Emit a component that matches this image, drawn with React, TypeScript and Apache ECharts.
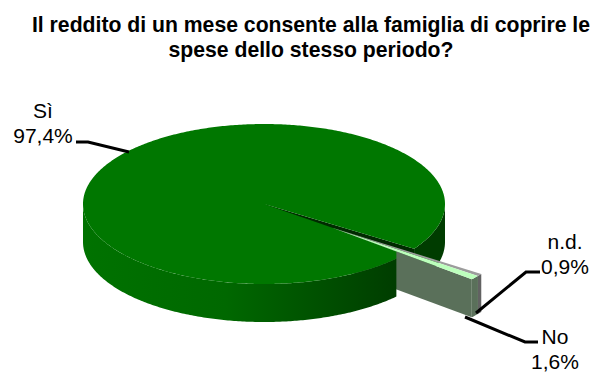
import React, { useEffect, useRef } from "react";
import * as echarts from "echarts";

const titleLines = [
  "Il reddito di un mese consente alla famiglia di coprire le",
  "spese dello stesso periodo?",
];
const categories = ["Sì", "n.d.", "No"];
const values = [97.4, 0.9, 1.6];
const valueLabels = ["97,4%", "0,9%", "1,6%"];

const CX = 264;
const CY = 204;
const RX = 181;
const RY = 80;
const DEPTH = 38;
const START = 43;
const EXPLODED_START = 35;
const EXPLODED_SWEEP = 0.55;
const EXPLODE = [69, 24];
const total = values.reduce((a, b) => a + b, 0);

const pt = (deg: number, ox = 0, oy = 0): [number, number] => {
  const a = (deg * Math.PI) / 180;
  return [CX + ox + RX * Math.cos(a), CY + oy + RY * Math.sin(a)];
};
const arc = (a0: number, a1: number, ox = 0, oy = 0) => {
  const out: [number, number][] = [];
  const n = Math.max(2, Math.ceil(Math.abs(a1 - a0) * 1.5));
  for (let i = 0; i <= n; i++) out.push(pt(a0 + ((a1 - a0) * i) / n, ox, oy));
  return out;
};
const band = (a0: number, a1: number, ox = 0, oy = 0) => [
  ...arc(a0, a1, ox, oy),
  ...arc(a1, a0, ox, oy + DEPTH),
];
const poly = (points: number[][], fill: any, z2: number) => ({
  type: "polygon",
  z2,
  shape: { points },
  style: { fill, stroke: null },
});

const frontGradient = new echarts.graphic.LinearGradient(
  83, 0, 400, 0,
  [
    { offset: 0, color: "#007200" },
    { offset: 0.45, color: "#006800" },
    { offset: 1, color: "#003c00" },
  ],
  true
);

const renderSlice = (params: any, api: any) => {
  const i = params.dataIndex;
  const sweep = (api.value(0) / total) * 360;
  const children: any[] = [];
  const [ox, oy] = EXPLODE;
  const apex = [CX + ox, CY + oy];
  if (i === 0) {
    const a0 = START;
    const a1 = a0 + sweep;
    const end = pt(a1);
    const c = [CX, CY];
    const s = pt(a0);
    // point on the lower edge of the pulled-out slices, straight above the start of this slice
    const lowerAngle = EXPLODED_START + (EXPLODED_SWEEP * (values[1] + values[2]) * 360) / total;
    const tip = pt(lowerAngle, ox, oy);
    const t = (s[0] - apex[0]) / (tip[0] - apex[0]);
    const lower = [s[0], apex[1] + (tip[1] - apex[1]) * t];
    children.push(
      poly([c, end, [end[0], end[1] + DEPTH], [CX, CY + DEPTH]], "#002a00", 1),
      poly(band(360, a1), "#003c00", 2),
      poly(band(a0, 180), frontGradient, 6),
      poly([c, apex, lower, ...arc(a0, a1)], "#007700", 7)
    );
  } else {
    let a0 = EXPLODED_START;
    for (let k = 1; k < i; k++) a0 += (values[k] / total) * 360 * EXPLODED_SWEEP;
    const a1 = a0 + sweep * EXPLODED_SWEEP;
    const tipEnd = pt(a1, ox, oy);
    if (categories[i] === "No") {
      children.push(
        poly([apex, tipEnd, [tipEnd[0], tipEnd[1] + DEPTH], [apex[0], apex[1] + DEPTH]], "#5a705a", 5),
        poly(band(a0, a1, ox, oy), "#5a705a", 5),
        poly([apex, ...arc(a0, a1, ox, oy)], "#bcffbc", 9)
      );
    } else {
      children.push(
        poly(band(a0, a1, ox, oy), "#626262", 4),
        poly([apex, ...arc(a0, a1, ox, oy)], "#9c9c9c", 8)
      );
    }
  }
  return { type: "group", children };
};

const labelFont = { fontFamily: "Liberation Sans, Arial, sans-serif", fontSize: 21, fill: "#000" };
const label = (text: string, x: number, y: number) => ({
  type: "text",
  x,
  y,
  z: 10,
  style: { ...labelFont, text, textAlign: "center", textVerticalAlign: "middle" },
});
const leader = (points: number[][]) => ({
  type: "polyline",
  z: 10,
  shape: { points },
  style: { stroke: "#000", lineWidth: 3, fill: null },
});

export default function App() {
  const ref = useRef<HTMLDivElement>(null);
  useEffect(() => {
    const chart = echarts.init(ref.current!, null, { renderer: "svg" });
    chart.setOption({
      animation: false,
      backgroundColor: "#fff",
      title: {
        text: titleLines.join("\n"),
        left: 311,
        top: 12,
        padding: 0,
        textAlign: "center",
        textStyle: {
          fontFamily: "Liberation Sans, Arial, sans-serif",
          fontWeight: "bold",
          fontSize: 21.2,
          lineHeight: 25,
          color: "#000",
        },
      },
      series: [
        {
          type: "custom",
          coordinateSystem: "none",
          silent: true,
          data: values.map((v) => [v]),
          renderItem: renderSlice,
        },
      ],
      graphic: [
        label(categories[0], 43, 110),
        label(valueLabels[0], 43, 135),
        label(categories[1], 565, 241),
        label(valueLabels[1], 565, 266),
        label(categories[2], 555, 336),
        label(valueLabels[2], 555, 361),
        leader([[76, 142], [88, 142], [129, 152]]),
        leader([[540, 272], [526, 272], [476, 313]]),
        leader([[538, 342], [525, 342], [465, 317]]),
      ],
    });
    return () => chart.dispose();
  }, []);
  return <div ref={ref} style={{ position: "absolute", left: 0, top: 0, width: 597, height: 372 }} />;
}
